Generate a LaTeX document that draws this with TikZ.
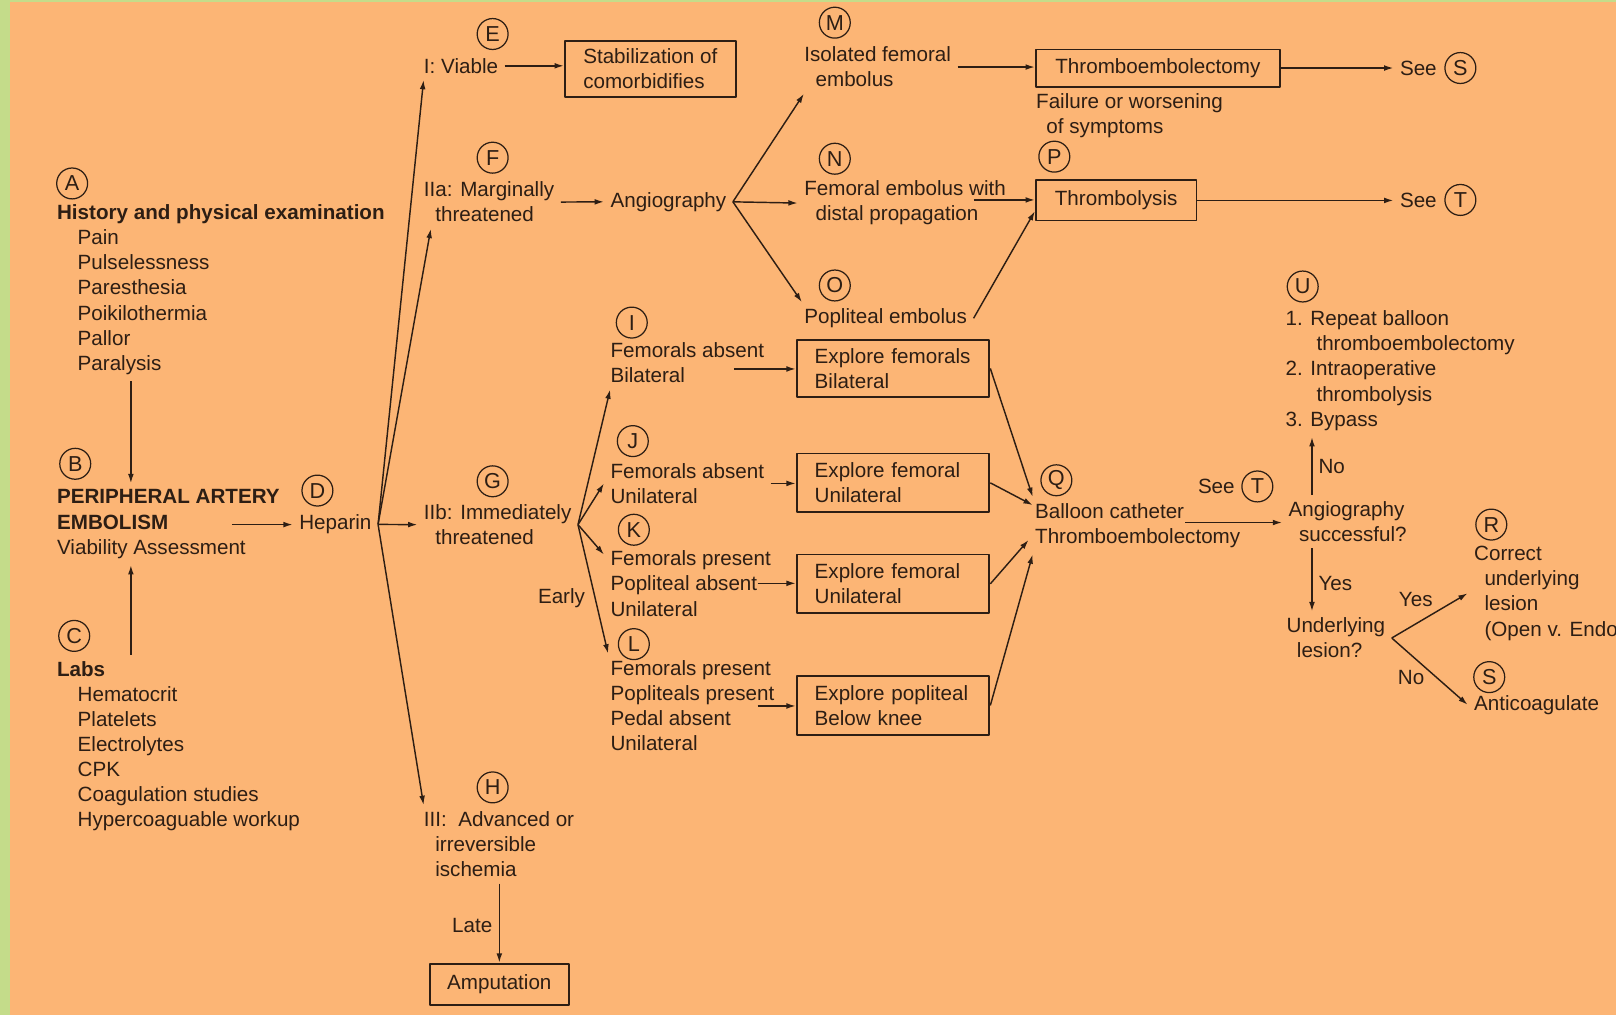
\documentclass[tikz,border=0pt]{standalone}
\usepackage{fontspec}
\setmainfont{Liberation Sans}
\usepackage{xcolor}
\usetikzlibrary{arrows.meta}
\definecolor{peach}{RGB}{252,181,117}
\definecolor{leaf}{RGB}{196,220,138}
\definecolor{ink}{RGB}{45,30,20}
\newcommand{\fs}{\fontsize{10}{12.2}\selectfont}
\newcommand{\ind}{\hspace*{10pt}}
\newcommand{\sind}{\hspace*{5.5pt}}
\tikzset{
  txt/.style={anchor=base west,inner sep=3pt,xshift=-3pt,align=left,font=\fs,text=ink},
  rtxt/.style={anchor=base east,inner sep=3pt,xshift=3pt,align=left,font=\fs,text=ink},
  box/.style={draw=ink,line width=0.9pt,align=left,inner sep=2pt,font=\fs,text=ink},
  xbox/.style={box,minimum width=93.5pt,text width=76pt,inner xsep=8.75pt},
  lett/.style={circle,draw=ink,line width=0.6pt,minimum size=15pt,inner sep=0pt,font=\fontsize{10.5}{12}\selectfont,text=ink},
  arr/.style={draw=ink,line width=0.7pt,-{Latex[length=4.5pt,width=2.8pt]}},
  ln/.style={draw=ink,line width=0.7pt},
}

\begin{document}
\begin{tikzpicture}[x=0.5pt,y=-0.5pt,line join=round]
\useasboundingbox (0,0) rectangle (1568,985);
\fill[leaf] (0,0) rectangle (1568,985);
\fill[peach] (10,2) rectangle (1568,985);

% multi-line texts are placed by the baseline of their last line
\node[lett] (cA) at (70,178) {A};
\node[txt] (hist) at (55,359.4) {\textbf{History and physical examination}\\\ind Pain\\\ind Pulselessness\\\ind Paresthesia\\\ind Poikilothermia\\\ind Pallor\\\ind Paralysis};
\node[lett] (cB) at (73,450) {B};
\node[txt] (peri) at (55,537.8) {\textbf{PERIPHERAL ARTERY}\\\textbf{EMBOLISM}\\Viability Assessment};
\node[lett] (cC) at (72,617) {C};
\node[txt] (labs) at (55,802.4) {\textbf{Labs}\\\ind Hematocrit\\\ind Platelets\\\ind Electrolytes\\\ind CPK\\\ind Coagulation studies\\\ind Hypercoaguable workup};
\node[lett] (cD) at (308,476) {D};
\node[txt] (heparin) at (290,514) {Heparin};

\node[lett] (cE) at (478,33) {E};
\node[txt] (viable) at (411,71) {I: Viable};
\node[box,minimum width=83pt,minimum height=27pt] (stab) at (631,67) {Stabilization of\\comorbidifies};
\node[lett] (cF) at (478,153) {F};
\node[txt] (margin) at (411,215.4) {IIa: Marginally\\\sind threatened};
\node[txt] (angio) at (592,201) {Angiography};
\node[lett] (cG) at (478,467) {G};
\node[txt] (immed) at (411,528.4) {IIb: Immediately\\\sind threatened};
\node[lett] (cH) at (478,764) {H};
\node[txt] (adv) at (411,850.8) {III:\ \ Advanced or\\\sind irreversible\\\sind ischemia};
\node[rtxt] (late) at (478,905) {Late};
\node[box,minimum width=67.5pt,minimum height=20pt,align=center] (amp) at (484.5,955) {Amputation};

\node[lett] (cM) at (810,22) {M};
\node[txt] (iso) at (780,84.4) {Isolated femoral\\\sind embolus};
\node[lett] (cN) at (810,154) {N};
\node[txt] (fem) at (780,214.4) {Femoral embolus with\\\sind distal propagation};
\node[lett] (cO) at (810,277) {O};
\node[txt] (pop) at (780,314) {Popliteal embolus};
\node[box,minimum width=118.5pt,minimum height=18pt,align=center] (tbe) at (1123.5,66) {Thromboembolectomy};
\node[txt] (fail) at (1005,129.4) {Failure or worsening\\\hspace*{5pt}of symptoms};
\node[lett] (cP) at (1023,152) {P};
\node[box,minimum width=78pt,minimum height=19.5pt,align=center] (tlys) at (1083,194.5) {Thrombolysis};
\node[txt] (seeS) at (1358,73) {See};
\node[lett] (cS1) at (1417,66) {S};
\node[txt] (seeT) at (1358,201) {See};
\node[lett] (cT1) at (1417,194) {T};

\node[lett] (cI) at (613,313) {I};
\node[txt] (fabs1) at (592,371.4) {Femorals absent\\Bilateral};
\node[lett] (cJ) at (614,428) {J};
\node[txt] (fabs2) at (592,488.4) {Femorals absent\\Unilateral};
\node[lett] (cK) at (615,514) {K};
\node[txt] (kpres) at (592,597.8) {Femorals present\\Popliteal absent\\Unilateral};
\node[lett] (cL) at (615,625) {L};
\node[txt] (lpres) at (592,728.2) {Femorals present\\Popliteals present\\Pedal absent\\Unilateral};
\node[rtxt] (early) at (568,586) {Early};
\node[xbox,minimum height=27.5pt] (xb1) at (866.5,357.5) {Explore femorals\\Bilateral};
\node[xbox,minimum height=28.5pt] (xb2) at (866.5,468.5) {Explore femoral\\Unilateral};
\node[xbox,minimum height=28.5pt] (xb3) at (866.5,566.5) {Explore femoral\\Unilateral};
\node[xbox,minimum height=28.5pt] (xb4) at (866.5,684.5) {Explore popliteal\\Below knee};

\node[lett] (cQ) at (1025,466) {Q};
\node[txt] (bal) at (1004,527.4) {Balloon catheter\\Thromboembolectomy};
\node[txt] (seeT2) at (1162,479) {See};
\node[lett] (cT2) at (1220,472) {T};
\node[txt] (angio2) at (1250,525.4) {Angiography\\\hspace*{5pt}successful?};
\node[lett] (cU) at (1264,278) {U};
\node[txt] (ulist) at (1247,413.6) {1. Repeat balloon\\\hspace*{15pt}thromboembolectomy\\2. Intraoperative\\\hspace*{15pt}thrombolysis\\3. Bypass};
\node[txt] (no1) at (1279,459) {No};
\node[txt] (yes1) at (1279,573) {Yes};
\node[txt] (under) at (1248,638.4) {Underlying\\\hspace*{5pt}lesion?};
\node[txt] (yes2) at (1357,588) {Yes};
\node[txt] (no2) at (1356,664) {No};
\node[lett] (cR) at (1447,509) {R};
\node[txt] (correct) at (1430,617.2) {Correct\\\hspace*{5pt}underlying\\\hspace*{5pt}lesion\\\hspace*{5pt}(Open v. Endo};
\node[lett] (cS2) at (1445,657) {S};
\node[txt] (antic) at (1430,689) {Anticoagulate};

\coordinate (colA) at (127,0);
\coordinate (colU) at (1273,0);
\coordinate (embR) at (225,509);
\coordinate (femR) at (945,194);
\coordinate (bilR) at (712,358);
\coordinate (kpR) at (735,566);
\coordinate (lpR) at (735,685);
\coordinate (balR) at (1150,507);

\draw[arr] (hist.south -| colA) -- (peri.north -| colA);
\draw[arr] (labs.north -| colA) -- (peri.south -| colA);
\draw[arr] (embR) -- (heparin.west |- embR);
\draw[arr] (heparin.east) -- ([xshift=3pt]viable.south west);
\draw[arr] (heparin.east) -- ([xshift=6.5pt]margin.south west);
\draw[arr] (heparin.east) -- (immed.west);
\draw[arr] (heparin.east) -- ([xshift=3pt]adv.north west);
\draw[arr] (viable.east) -- (stab.west |- viable.east);
\draw[arr] (margin.east) -- (angio.west);
\draw[arr] (adv.south -| amp.north) -- (amp.north);

\draw[arr] (angio.east) -- ([xshift=3pt]iso.south west);
\draw[arr] (angio.east) -- (fem.west);
\draw[arr] (angio.east) -- ([xshift=2pt]pop.north west);
\draw[arr] (iso.east) -- (tbe.west |- iso.east);
\draw[arr] (femR) -- (tlys.west |- femR);
\draw[arr] (pop.east) -- ([yshift=5pt]tlys.south west);
\draw[arr] (tbe.east) -- (seeS.west |- tbe.east);
\draw[arr] (tlys.east) -- (seeT.west |- tlys.east);

\draw[arr] (immed.east) -- ([xshift=3pt]fabs1.south west);
\draw[arr] (immed.east) -- (fabs2.west);
\draw[arr] (immed.east) -- ([yshift=-5pt]kpres.north west);
\draw[arr] (immed.east) -- ([xshift=2pt]lpres.north west);
\draw[arr] (bilR) -- (xb1.west |- bilR);
\draw[arr] (fabs2.east) -- (xb2.west |- fabs2.east);
\draw[arr] (kpR) -- (xb3.west |- kpR);
\draw[arr] (lpR) -- (xb4.west |- lpR);
\draw[arr] (xb1.east) -- ([xshift=2pt]bal.north west);
\draw[arr] (xb2.east) -- ([xshift=2pt,yshift=-4pt]bal.north west);
\draw[arr] (xb3.east) -- ([yshift=7pt]bal.south west);
\draw[arr] (xb4.east) -- ([xshift=2pt]bal.south west);

\draw[arr] (balR) -- (angio2.west |- balR);
\draw[arr] (angio2.north -| colU) -- (ulist.south -| colU);
\draw[arr] (angio2.south -| colU) -- (under.north -| colU);
\draw[arr] (under.east) -- (correct.west);
\draw[arr] (under.east) -- (antic.west);
\end{tikzpicture}
\end{document}
